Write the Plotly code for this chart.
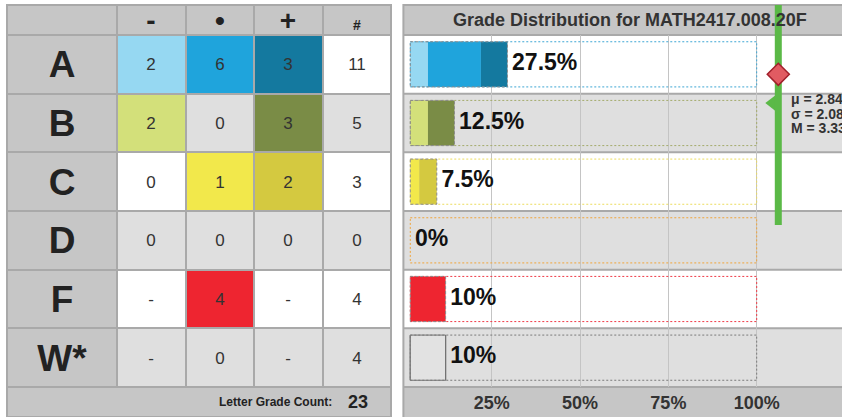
import plotly.graph_objects as go

W, H = 842, 417
FONT = "Liberation Sans, Arial, sans-serif"

# ------------------------------------------------------------------ data
grades = ["A", "B", "C", "D", "F", "W*"]
col_heads = ["-", "•", "+", "#"]
minus_counts = ["2", "2", "0", "0", "-", "-"]
mid_counts = ["6", "0", "1", "0", "4", "0"]
plus_counts = ["3", "3", "2", "0", "-", "-"]
row_totals = ["11", "5", "3", "0", "4", "4"]
letter_grade_count = 23

pct_minus = [5, 5, 0, 0, 0, 0]
pct_mid = [15, 0, 2.5, 0, 10, 10]
pct_plus = [7.5, 7.5, 5, 0, 0, 0]
pct_total = [27.5, 12.5, 7.5, 0, 10, 10]

axis_ticks = [25, 50, 75, 100]
axis_tick_text = ["25%", "50%", "75%", "100%"]

chart_title = "Grade Distribution for MATH2417.008.20F"
stat_mean = 2.84
stat_sd = 2.08
stat_median = 3.33

# ------------------------------------------------------------------ colours
minus_colors = ["#96d8f2", "#d3e07a", "#f6ef8c", "#f7c987", "#f26a70", "#e2e2e2"]
mid_colors = ["#1fa4dc", "#a9b85c", "#f2e84b", "#f2a53a", "#ee2530", "#e2e2e2"]
plus_colors = ["#14799f", "#7a8c46", "#d4c940", "#c9801e", "#b81a22", "#c8c8c8"]
box_colors = ["#3ea6d4", "#a4ab6c", "#ecdc5e", "#f0a43a", "#ef3a46", "#7a7a7a"]
band_colors = ["#ffffff", "#dfdfdf"]
header_gray = "#c6c6c6"
border_gray = "#a9a9a9"
green = "#5bb947"

# ------------------------------------------------------------------ geometry (layout)
def fx(p):
    return p / W


def fy(p):
    return 1 - p / H


TBL_W = 384.0
LABEL_W = 110.0
COL_W = (TBL_W - LABEL_W) / 4
HEAD_H = 30.0
ROW_H = 352.0 / 6
x_edges = [0, LABEL_W] + [LABEL_W + COL_W * (k + 1) for k in range(4)]
row_edges = [HEAD_H + ROW_H * k for k in range(len(grades) + 1)]
foot_edges = [row_edges[-1], row_edges[-1] + 30]

PX_PER_PCT = 3.533
RIGHT_X0 = 403.4
X2_MAX = (W - RIGHT_X0) / PX_PER_PCT
BAR_INSET = 1.95
BAR_W = 0.77
STATS_X = (778.3 - RIGHT_X0) / PX_PER_PCT
Y3_TOP = 4 + 30 / ROW_H
Y3_BOT = 4 - 352 / ROW_H

fig = go.Figure()


def color_heatmap(fills, texts, xe, ye, font):
    palette, z = [], []
    for r in fills:
        zr = []
        for c in r:
            if c not in palette:
                palette.append(c)
            zr.append(palette.index(c))
        z.append(zr)
    n = len(palette)
    if n == 1:
        cs = [[0, palette[0]], [1, palette[0]]]
    else:
        cs = [[k / (n - 1), c] for k, c in enumerate(palette)]
    return go.Heatmap(
        z=z, x=xe, y=ye, text=texts, texttemplate="%{text}", textfont=font,
        colorscale=cs, zmin=0, zmax=max(n - 1, 1), showscale=False,
        xgap=2, ygap=2, hoverinfo="skip", xaxis="x", yaxis="y",
    )


# ---- left table: value cells
cell_fills, cell_texts = [], []
for i in range(len(grades)):
    bg = band_colors[i % 2]
    shades = [minus_colors[i], mid_colors[i], plus_colors[i]]
    vals = [minus_counts[i], mid_counts[i], plus_counts[i]]
    row = [shades[j] if vals[j] not in ("0", "-") else bg for j in range(3)]
    row.append(bg)
    cell_fills.append(row)
    cell_texts.append(vals + [row_totals[i]])
fig.add_trace(color_heatmap(cell_fills, cell_texts, x_edges[1:], row_edges,
                            dict(family=FONT, size=17, color="#333333")))

# ---- left table: grade label column
fig.add_trace(color_heatmap([[header_gray] for _ in grades],
                            [["<b>%s</b>" % g] for g in grades],
                            x_edges[:2], row_edges,
                            dict(family=FONT, size=37, color="#222222")))

# ---- left table: header row
head_texts = [""] + ["<b>%s</b>" % h for h in col_heads[:3]] + \
    ["<b><span style='font-size:14px'>%s</span></b>" % col_heads[3]]
fig.add_trace(color_heatmap([[header_gray] * 5], [head_texts], x_edges, [0, HEAD_H],
                            dict(family=FONT, size=28, color="#222222")))

# ---- left table: footer row
fig.add_trace(color_heatmap([[header_gray]], [[""]], [0, TBL_W], foot_edges,
                            dict(family=FONT, size=12, color="#222222")))

# ---- right panel: stacked bars
rows = list(range(len(grades)))
base_minus = [BAR_INSET] * len(grades)
base_mid = [BAR_INSET + a for a in pct_minus]
base_plus = [BAR_INSET + a + b for a, b in zip(pct_minus, pct_mid)]
w_line = [1 if g.startswith("W") else 0 for g in grades]
for vals, base, cols in [(pct_minus, base_minus, minus_colors),
                         (pct_mid, base_mid, mid_colors),
                         (pct_plus, base_plus, plus_colors)]:
    fig.add_trace(go.Bar(
        x=vals, y=rows, base=base, orientation="h", width=BAR_W,
        marker=dict(color=cols, line=dict(color="#737373", width=w_line)),
        hoverinfo="skip", xaxis="x2", yaxis="y2",
    ))

fig.add_trace(go.Scatter(
    x=[BAR_INSET + t for t in pct_total], y=rows, mode="text",
    text=["<b>\u2009%g%%</b>" % t for t in pct_total], textposition="middle right",
    textfont=dict(family=FONT, size=23, color="#111111"), cliponaxis=False,
    hoverinfo="skip", xaxis="x2", yaxis="y2",
))

# ---- stats overlay (grade scale)
fig.add_trace(go.Scatter(
    x=[STATS_X - 1.7], y=[stat_mean], mode="markers",
    marker=dict(symbol="triangle-left", size=14, color=green),
    hoverinfo="skip", xaxis="x3", yaxis="y3",
))
fig.add_trace(go.Scatter(
    x=[STATS_X, STATS_X], y=[stat_mean + stat_sd, stat_mean - stat_sd], mode="lines",
    line=dict(color=green, width=7), hoverinfo="skip", xaxis="x3", yaxis="y3",
))
fig.add_trace(go.Scatter(
    x=[STATS_X], y=[stat_median], mode="markers",
    marker=dict(symbol="diamond", size=17, color="#e15b62",
                line=dict(color="#a11f2b", width=1.5)),
    hoverinfo="skip", xaxis="x3", yaxis="y3", cliponaxis=False,
))

# ---- shapes
shapes = [
    dict(type="rect", xref="paper", yref="paper", x0=fx(6), x1=fx(392), y0=fy(418), y1=fy(4),
         fillcolor=border_gray, line_width=0, layer="below"),
    dict(type="rect", xref="paper", yref="paper", x0=fx(402.4), x1=1.05, y0=fy(418), y1=fy(4),
         fillcolor=border_gray, line_width=0, layer="below"),
    dict(type="rect", xref="paper", yref="paper", x0=fx(404.4), x1=1.05, y0=fy(34), y1=fy(6),
         fillcolor=header_gray, line_width=0, layer="below"),
    dict(type="rect", xref="paper", yref="paper", x0=fx(404.4), x1=1.05, y0=fy(418), y1=fy(388),
         fillcolor=header_gray, line_width=0, layer="below"),
]
g = 1.0 / ROW_H
for i in rows:
    shapes.append(dict(type="rect", xref="paper", yref="y2", x0=fx(404.4), x1=1.05,
                       y0=i - 0.5 + g, y1=i + 0.5 - g, fillcolor=band_colors[i % 2],
                       line_width=0, layer="below"))
    shapes.append(dict(type="rect", xref="x2", yref="y2", x0=BAR_INSET, x1=100,
                       y0=i - BAR_W / 2, y1=i + BAR_W / 2, fillcolor="rgba(0,0,0,0)",
                       line=dict(color=box_colors[i], width=1, dash="2px,2px"), layer="above"))
for i in rows:
    if pct_total[i] > 0 and not w_line[i]:
        shapes.append(dict(type="rect", xref="x2", yref="y2", x0=BAR_INSET,
                           x1=BAR_INSET + pct_total[i],
                           y0=i - BAR_W / 2, y1=i + BAR_W / 2, fillcolor="rgba(0,0,0,0)",
                           line=dict(color="#8a8a8a", width=1, dash="3px,2px"), layer="above"))

# ---- annotations
ann = [
    dict(xref="paper", yref="paper", x=fx(630), y=fy(20), text="<b>%s</b>" % chart_title,
         showarrow=False, font=dict(family=FONT, size=18, color="#333333"),
         xanchor="center", yanchor="middle"),
    dict(xref="paper", yref="paper", x=fx(334), y=fy(402), text="<b>Letter Grade Count:</b>",
         showarrow=False, font=dict(family=FONT, size=12, color="#222222"),
         xanchor="right", yanchor="middle"),
    dict(xref="paper", yref="paper", x=fx(346), y=fy(402), text="<b>%d</b>" % letter_grade_count,
         showarrow=False, font=dict(family=FONT, size=18, color="#222222"),
         xanchor="left", yanchor="middle"),
]
stat_lines = ["μ = %.2f" % stat_mean, "σ = %.2f" % stat_sd, "M = %.2f" % stat_median]
for k, s in enumerate(stat_lines):
    ann.append(dict(xref="x3", yref="y3", x=STATS_X, y=stat_mean, xshift=11,
                    yshift=4 - 14.5 * k, text="<b>%s</b>" % s, showarrow=False,
                    font=dict(family=FONT, size=14, color="#333333"),
                    xanchor="left", yanchor="middle"))

fig.update_layout(
    width=W, height=H, autosize=False, margin=dict(l=0, r=0, t=0, b=0, pad=0),
    paper_bgcolor="white", plot_bgcolor="rgba(0,0,0,0)", showlegend=False,
    barmode="overlay", shapes=shapes, annotations=ann,
    xaxis=dict(domain=[fx(7), fx(391)], range=[0, TBL_W], visible=False, fixedrange=True),
    yaxis=dict(domain=[0, fy(5)], range=[412, 0], visible=False, fixedrange=True),
    xaxis2=dict(domain=[fx(RIGHT_X0), 1], range=[0, X2_MAX], anchor="y2",
                tickvals=axis_ticks, ticktext=["<b>%s</b>" % t for t in axis_tick_text],
                tickfont=dict(family=FONT, size=18, color="#333333"),
                ticklabelstandoff=3,
                showgrid=True, gridcolor="#c4c4c4", gridwidth=1, zeroline=False,
                showline=False, ticks="", fixedrange=True),
    yaxis2=dict(domain=[fy(387), fy(35)], range=[len(grades) - 0.5, -0.5], anchor="x2",
                visible=False, fixedrange=True),
    xaxis3=dict(domain=[fx(RIGHT_X0), 1], range=[0, X2_MAX], anchor="y3",
                visible=False, fixedrange=True),
    yaxis3=dict(domain=[fy(387), fy(5)], range=[Y3_BOT, Y3_TOP], anchor="x3",
                visible=False, fixedrange=True),
)

fig.write_html("out.html", config={"displayModeBar": False},
               post_script="document.body.style.margin='0px';document.body.style.overflow='hidden';")
